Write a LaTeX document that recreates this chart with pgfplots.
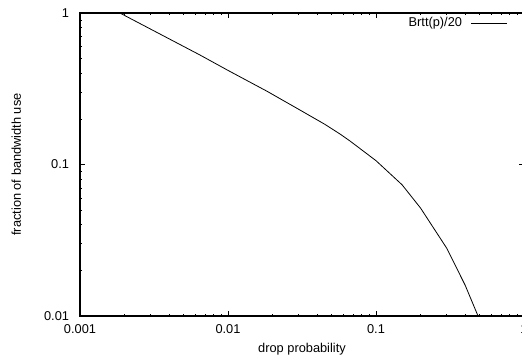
\documentclass[border=0pt]{standalone}
\usepackage{pgfplots}
\pgfplotsset{compat=1.18}
\usepackage{fontspec}
\setmainfont{Liberation Sans}
\begin{document}
\fontsize{12.8}{15}\selectfont
\begin{tikzpicture}
\begin{axis}[
  scale only axis,
  width=444pt, height=303pt,
  xmode=log, ymode=log,
  xmin=0.001, xmax=1, ymin=0.01, ymax=1,
  xtick={0.001,0.01,0.1,1}, ytick={0.01,0.1,1},
  xticklabels={0.001,0.01,0.1,1}, yticklabels={0.01,0.1,1},
  /pgf/number format/assume math mode=true,
  tick align=inside,
  major tick length=5pt, minor tick length=2.5pt,
  every tick/.style={black, line width=0.6pt},
  axis line style={line width=1.1pt},
  xticklabel style={yshift=-4.5pt},
  yticklabel style={xshift=-6.5pt},
  xlabel={drop probability},
  ylabel={fraction of bandwidth use},
  xlabel style={at={(axis description cs:0.5,-0.119)}, anchor=base},
  ylabel style={at={(axis description cs:-0.133,0.5)}, anchor=base},
  legend plot pos=right,
  legend cell align=right,
  legend style={draw=none, fill=none, at={(axis description cs:0.964,0.967)}, anchor=east, inner sep=0pt},
  legend image code/.code={\path (0pt,0pt); \draw[#1] (7pt,0pt) -- (43pt,0pt);},
]
\addplot[black, line width=0.8pt] coordinates {
 (0.001,1.37) (0.00186,1.0) (0.00647,0.528) (0.01,0.418) (0.0184,0.304)
 (0.0306,0.229) (0.045,0.1845) (0.0571,0.159) (0.0667,0.143) (0.1,0.106)
 (0.15,0.0735) (0.2,0.0516) (0.3,0.0281) (0.4,0.0160) (0.5,0.0095)
};
\addlegendentry{Brtt(p)/20}
\coordinate (O) at (rel axis cs:0,0);
\end{axis}
\pgfresetboundingbox
\path[use as bounding box] ([shift={(-80pt,-40pt)}]O) rectangle ([shift={(442pt,316pt)}]O);
\end{tikzpicture}
\end{document}
